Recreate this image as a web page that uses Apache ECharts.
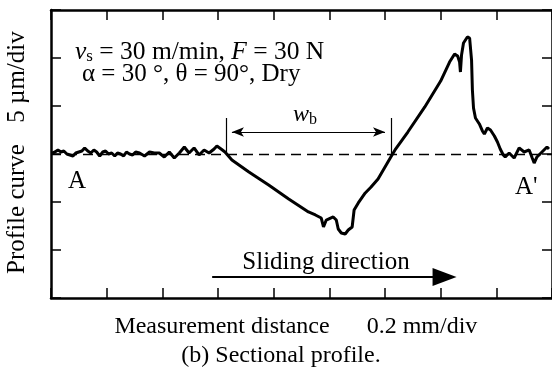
<!DOCTYPE html>
<html>
<head>
<meta charset="utf-8">
<script src="https://cdn.jsdelivr.net/npm/echarts@6/dist/echarts.min.js"></script>
<style>
  html, body { margin: 0; padding: 0; background: #fff; }
  #chart { width: 552px; height: 371px; }
</style>
</head>
<body>
<div id="chart"></div>
<script>
// 测量距离 (mm) 与轮廓高度 (µm)
const distMm = [
  0.004, 0.014, 0.025, 0.036, 0.046, 0.057, 0.068, 0.079, 0.089, 0.100,
  0.111, 0.121, 0.132, 0.143, 0.154, 0.164, 0.175, 0.186, 0.196, 0.207,
  0.218, 0.229, 0.239, 0.250, 0.261, 0.271, 0.282, 0.293, 0.304, 0.318,
  0.336, 0.354, 0.371, 0.389, 0.407, 0.425, 0.443, 0.461, 0.479, 0.496,
  0.514, 0.532, 0.550, 0.568, 0.586, 0.596, 0.611, 0.625, 0.650, 0.711,
  0.782, 0.854, 0.925, 0.950, 0.971, 0.979, 0.989, 1.014, 1.025, 1.032,
  1.043, 1.057, 1.068, 1.082, 1.089, 1.104, 1.129, 1.150, 1.175, 1.221,
  1.236, 1.282, 1.343, 1.400, 1.432, 1.450, 1.461, 1.468, 1.471, 1.475,
  1.482, 1.496, 1.504, 1.511, 1.514, 1.518, 1.525, 1.539, 1.550, 1.557,
  1.568, 1.579, 1.593, 1.604, 1.614, 1.625, 1.632, 1.646, 1.664, 1.682,
  1.700, 1.718, 1.729, 1.736, 1.746, 1.764, 1.782, 1.789
]
const profileUm = [
  0.10, 0.21, 0.42, 0.21, 0.31, 0.00, -0.10, -0.21, 0.10, 0.21,
  0.31, 0.63, 0.31, 0.10, 0.42, 0.21, -0.21, 0.21, 0.31, 0.00,
  0.10, -0.21, 0.10, 0.00, -0.21, 0.21, 0.00, -0.10, 0.21, 0.10,
  -0.21, 0.21, 0.10, 0.10, -0.31, 0.21, -0.42, 0.10, 0.73, 0.10,
  0.63, -0.10, 0.42, 0.10, 0.52, 0.83, 0.52, 0.21, -0.63, -1.88,
  -3.23, -4.69, -6.04, -6.35, -6.67, -7.60, -6.88, -6.56, -6.88, -7.81,
  -8.23, -8.33, -7.92, -7.60, -5.83, -5.10, -4.06, -3.44, -2.60, -0.31,
  0.42, 2.29, 4.90, 7.60, 9.58, 10.42, 10.21, 9.58, 8.54, 10.31,
  11.56, 12.19, 12.08, 9.79, 6.67, 4.79, 3.75, 3.13, 2.40, 2.08,
  2.71, 2.50, 1.88, 1.25, 0.52, -0.10, -0.31, 0.10, -0.42, 0.63,
  0.21, 0.42, -0.42, -0.94, -0.31, 0.21, 0.73, 0.52
]

// w_b 标注位置 (mm / µm)
const wbStart = 0.629
const wbEnd = 1.221
const wbTop = 3.75
const wbArrowY = 2.29
// 滑动方向箭头
const slideFrom = 0.579
const slideTo = 1.414
const slideY = -12.8

const serif = "'Times New Roman', 'Liberation Serif', serif"
const chart = echarts.init(document.getElementById('chart'))

const axisCommon = {
  type: 'value',
  axisLine: { onZero: false, lineStyle: { color: '#000', width: 2.5 } },
  axisTick: { inside: true, length: 10, lineStyle: { color: '#000', width: 1.5 } },
  axisLabel: { show: false },
  splitLine: { show: false }
}

const thin = { color: '#000', width: 1.2, type: 'solid' }

chart.setOption({
  animation: false,
  grid: { left: 51, top: 10, width: 504, height: 288 },
  xAxis: [
    { ...axisCommon, min: 0, max: 1.8, interval: 0.2, position: 'bottom' },
    { ...axisCommon, min: 0, max: 1.8, interval: 0.2, position: 'top' }
  ],
  yAxis: [
    { ...axisCommon, min: -15, max: 15, interval: 5, position: 'left' },
    { ...axisCommon, min: -15, max: 15, interval: 5, position: 'right' }
  ],
  series: [
    {
      type: 'line',
      data: distMm.map((x, i) => [x, profileUm[i]]),
      showSymbol: false,
      lineStyle: { color: '#000', width: 3 },
      z: 5,
      markLine: {
        silent: true,
        symbol: 'none',
        label: { show: false },
        lineStyle: { color: '#000', width: 1.4, type: [10, 6] },
        data: [{ yAxis: 0 }]
      }
    },
    {
      // 标注线
      type: 'line',
      data: [],
      markLine: {
        silent: true,
        label: { show: false },
        data: [
          [{ coord: [wbStart, 0], symbol: 'none', lineStyle: thin }, { coord: [wbStart, wbTop], symbol: 'none' }],
          [{ coord: [wbEnd, 0], symbol: 'none', lineStyle: thin }, { coord: [wbEnd, wbTop], symbol: 'none' }],
          [
            { coord: [wbStart + 0.021, wbArrowY], symbol: 'arrow', symbolSize: [7, 12], lineStyle: thin },
            { coord: [wbEnd - 0.021, wbArrowY], symbol: 'arrow', symbolSize: [7, 12] }
          ],
          [
            { coord: [slideFrom, slideY], symbol: 'none', lineStyle: { color: '#000', width: 2, type: 'solid' } },
            { coord: [slideTo, slideY], symbol: 'triangle', symbolSize: [18, 24] }
          ]
        ]
      }
    }
  ],
  graphic: [
    {
      type: 'text', x: 75, y: 52,
      style: {
        text: '{i|v}{sub|s}{n| = 30 m/min, }{i|F}{n| = 30 N}',
        verticalAlign: 'middle', fill: '#000',
        rich: {
          i: { fontFamily: serif, fontStyle: 'italic', fontSize: 25.5, lineHeight: 27 },
          n: { fontFamily: serif, fontSize: 25.5, lineHeight: 27 },
          sub: { fontFamily: serif, fontSize: 17, verticalAlign: 'bottom', lineHeight: 17 }
        }
      }
    },
    {
      type: 'text', x: 82, y: 74,
      style: { text: 'α = 30 °, θ = 90°, Dry', font: '25px ' + serif, verticalAlign: 'middle', fill: '#000' }
    },
    {
      type: 'text', x: 293, y: 115,
      style: {
        text: '{i|w}{sub|b}',
        verticalAlign: 'middle', fill: '#000',
        rich: {
          i: { fontFamily: serif, fontStyle: 'italic', fontSize: 24, lineHeight: 26 },
          sub: { fontFamily: serif, fontSize: 16, verticalAlign: 'bottom', lineHeight: 16 }
        }
      }
    },
    { type: 'text', x: 68, y: 181, style: { text: 'A', font: '25px ' + serif, verticalAlign: 'middle', fill: '#000' } },
    { type: 'text', x: 515, y: 187, style: { text: "A'", font: '25px ' + serif, verticalAlign: 'middle', fill: '#000' } },
    { type: 'text', x: 326, y: 262, style: { text: 'Sliding direction', font: '25px ' + serif, align: 'center', verticalAlign: 'middle', fill: '#000' } },
    { type: 'text', x: 17, y: 209, rotation: Math.PI / 2, style: { text: 'Profile curve', font: '25px ' + serif, align: 'center', verticalAlign: 'middle', fill: '#000' } },
    { type: 'text', x: 17, y: 77, rotation: Math.PI / 2, style: { text: '5 µm/div', font: '25px ' + serif, align: 'center', verticalAlign: 'middle', fill: '#000' } },
    { type: 'text', x: 222, y: 327, style: { text: 'Measurement distance', font: '24px ' + serif, align: 'center', verticalAlign: 'middle', fill: '#000' } },
    { type: 'text', x: 422, y: 327, style: { text: '0.2 mm/div', font: '24px ' + serif, align: 'center', verticalAlign: 'middle', fill: '#000' } },
    { type: 'text', x: 281, y: 356, style: { text: '(b) Sectional profile.', font: '24px ' + serif, align: 'center', verticalAlign: 'middle', fill: '#000' } }
  ]
})
</script>
</body>
</html>
